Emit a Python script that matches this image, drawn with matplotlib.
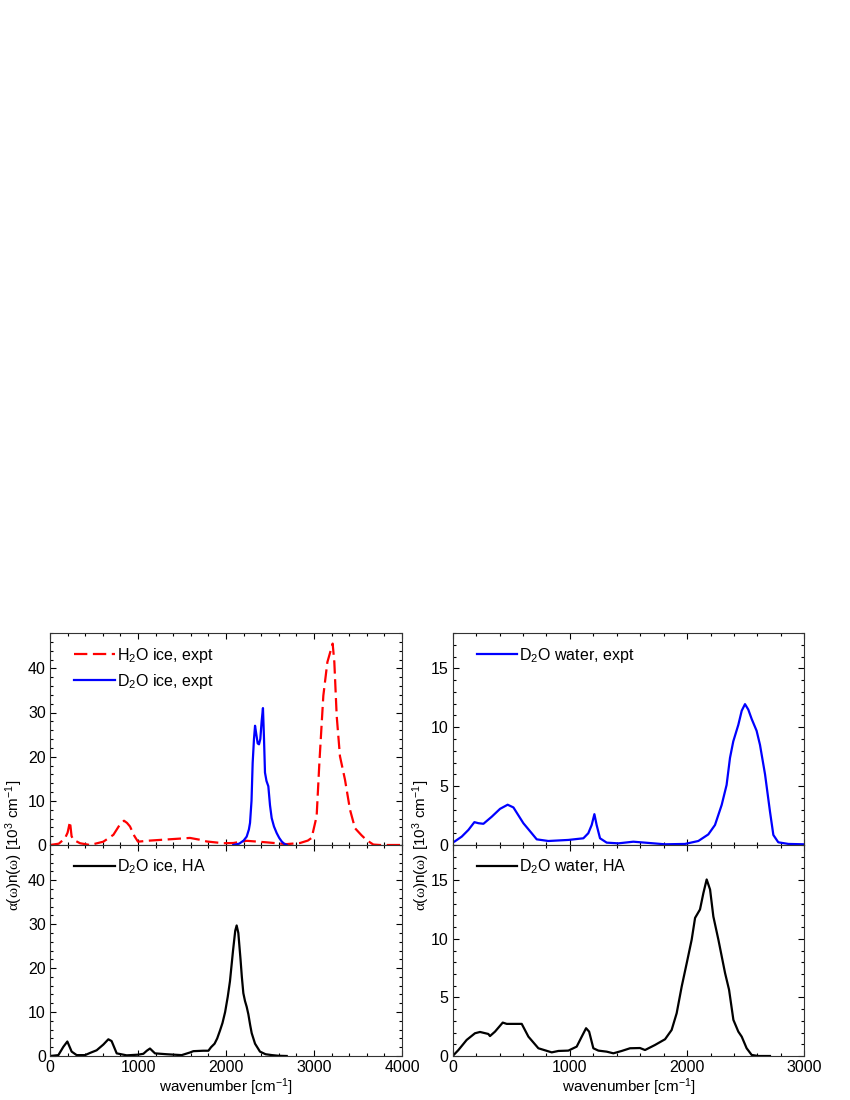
import numpy as np
import matplotlib
matplotlib.use('Agg')
import matplotlib.pyplot as plt
from matplotlib.ticker import MultipleLocator

matplotlib.rcParams['font.family'] = ['Liberation Sans', 'DejaVu Sans']
matplotlib.rcParams['font.size'] = 11
matplotlib.rcParams['mathtext.fontset'] = 'custom'
matplotlib.rcParams['mathtext.rm'] = 'Liberation Sans'
matplotlib.rcParams['mathtext.it'] = 'Liberation Sans:italic'
matplotlib.rcParams['mathtext.sf'] = 'Liberation Serif'
matplotlib.rcParams['mathtext.default'] = 'regular'

# ice, experiment (left top)
h2o_ice_wn = [0, 100, 170, 200, 227, 245, 265, 341, 455, 606, 720, 790, 841, 875, 909, 960,
              1000, 1136, 1364, 1591, 1700, 1780, 1970, 2083, 2235, 2462, 2689, 2841, 2930,
              2973, 3030, 3061, 3106, 3152, 3212, 3231, 3258, 3295, 3352, 3409, 3466, 3540,
              3598, 3674, 3750, 4000]
h2o_ice_val = [0, 0.3, 1.5, 2.8, 5.3, 2.0, 1.2, 0.4, 0, 0.75, 2.3, 4.5, 5.5, 5.0, 4.2, 2.0,
               0.75, 1.0, 1.3, 1.6, 1.2, 0.8, 0.4, 0.45, 0.95, 0.6, 0.2, 0.45, 1.0,
               1.6, 6.5, 18.6, 33.8, 41.4, 45.6, 41.4, 29.2, 20.1, 14.8, 8.0, 3.8, 2.2,
               1.1, 0.1, 0, 0]

d2o_ice_wn = [2083, 2150, 2200, 2235, 2260, 2273, 2290, 2303, 2318, 2330, 2345, 2360, 2375,
              2390, 2405, 2420, 2432, 2443, 2460, 2481, 2500, 2519, 2545, 2576, 2605, 2633,
              2660, 2690]
d2o_ice_val = [0, 0.3, 1.0, 1.9, 3.5, 5.0, 10, 18.6, 24, 27, 25, 23, 22.8,
               24, 28, 31, 24, 16.4, 14.5, 13.3, 9, 6.1, 4.2, 2.7, 1.6, 0.8,
               0.3, 0]

# ice, harmonic approximation (left bottom)
ice_ha_wn = [0, 95, 152, 197, 246, 303, 398, 455, 530, 606, 663, 700, 758, 871, 1000, 1061,
             1100, 1136, 1193, 1326, 1496, 1591, 1629, 1742, 1800, 1830, 1870, 1900, 1932,
             1960, 1990, 2020, 2045, 2080, 2105, 2121, 2140, 2165, 2180, 2197, 2216, 2235,
             2254, 2275, 2292, 2330, 2386, 2450, 2523, 2600, 2690]
ice_ha_val = [0, 0.2, 2.1, 3.3, 1.0, 0.2, 0.2, 0.7, 1.3, 2.6, 3.8, 3.4, 0.6, 0.15, 0.3, 0.5,
              1.2, 1.7, 0.6, 0.4, 0.2, 0.8, 1.1, 1.2, 1.2, 2.0, 2.8, 4.0, 5.8,
              7.5, 10, 13.5, 17, 24, 28.5, 29.7, 28, 22, 18, 14.3, 12.5, 11.2,
              9.5, 7, 5.2, 2.8, 1.0, 0.4, 0.2, 0.05, 0]

# water, experiment (right top)
water_exp_wn = [0, 14, 77, 134, 185, 220, 262, 333, 404, 469, 518, 603, 674, 717, 816, 987,
                1115, 1157, 1186, 1209, 1228, 1257, 1314, 1413, 1541, 1641, 1811, 1982,
                2096, 2181, 2238, 2295, 2337, 2366, 2394, 2437, 2466, 2494, 2522, 2551,
                2593, 2622, 2665, 2707, 2736, 2778, 2864, 3000]
water_exp_val = [0.25, 0.28, 0.71, 1.28, 1.94, 1.85, 1.8, 2.4, 3.07, 3.42, 3.19, 1.85, 1.0,
                 0.48, 0.34, 0.43, 0.57, 1.0, 1.7, 2.62, 1.7, 0.57, 0.2, 0.14, 0.28, 0.2,
                 0.06, 0.09, 0.34, 0.9, 1.7, 3.4, 5.1, 7.4, 8.8, 10.2, 11.4, 11.96, 11.5,
                 10.7, 9.7, 8.5, 6.0, 2.85, 0.85, 0.23, 0.09, 0.06]

# water, harmonic approximation (right bottom)
water_ha_wn = [0, 48, 119, 190, 233, 304, 318, 361, 427, 461, 503, 589, 646, 731, 845, 902,
               987, 1058, 1101, 1138, 1164, 1200, 1243, 1314, 1371, 1442, 1513, 1598, 1641,
               1726, 1812, 1868, 1911, 1954, 1997, 2039, 2068, 2110, 2139, 2167, 2196, 2224,
               2267, 2324, 2358, 2395, 2437, 2466, 2508, 2551, 2608, 2707]
water_ha_val = [0, 0.5, 1.37, 1.94, 2.05, 1.88, 1.7, 2.08, 2.85, 2.74, 2.74, 2.74, 1.65, 0.66,
                0.31, 0.43, 0.46, 0.8, 1.65, 2.37, 2.08, 0.66, 0.46, 0.37, 0.23, 0.43, 0.66,
                0.68, 0.51, 0.94, 1.43, 2.22, 3.65, 5.93, 7.93, 9.92, 11.78, 12.5, 13.9,
                15.06, 14.2, 11.9, 9.92, 7.07, 5.65, 3.08, 2.08, 1.65, 0.66, 0.09, 0, 0]

fig = plt.figure(figsize=(8.5, 11), dpi=100)
W, H = 850., 1100.
ax_it = fig.add_axes([50/W, 1-845/H, 352/W, 212/H])
ax_ib = fig.add_axes([50/W, 1-1056/H, 352/W, 211/H])
ax_wt = fig.add_axes([452.7/W, 1-845/H, 351.6/W, 212/H])
ax_wb = fig.add_axes([452.7/W, 1-1056/H, 351.6/W, 211/H])

ax_it.plot(h2o_ice_wn, h2o_ice_val, color='#ff0000', lw=1.6, dashes=(6, 2.5),
           label=r'H$_2$O ice, expt')
ax_it.plot(d2o_ice_wn, d2o_ice_val, color='#0000ff', lw=1.6, label=r'D$_2$O ice, expt')
ax_ib.plot(ice_ha_wn, ice_ha_val, color='k', lw=1.6, label=r'D$_2$O ice, HA')
ax_wt.plot(water_exp_wn, water_exp_val, color='#0000ff', lw=1.6, label=r'D$_2$O water, expt')
ax_wb.plot(water_ha_wn, water_ha_val, color='k', lw=1.6, label=r'D$_2$O water, HA')

for ax in [ax_it, ax_ib]:
    ax.set_xlim(0, 4000)
    ax.set_ylim(0, 48)
    ax.xaxis.set_major_locator(MultipleLocator(1000))
    ax.xaxis.set_minor_locator(MultipleLocator(200))
    ax.yaxis.set_major_locator(MultipleLocator(10))
    ax.yaxis.set_minor_locator(MultipleLocator(2))
for ax in [ax_wt, ax_wb]:
    ax.set_xlim(0, 3000)
    ax.set_ylim(0, 18)
    ax.xaxis.set_major_locator(MultipleLocator(1000))
    ax.xaxis.set_minor_locator(MultipleLocator(200))
    ax.yaxis.set_major_locator(MultipleLocator(5))
    ax.yaxis.set_minor_locator(MultipleLocator(1))

for ax in [ax_it, ax_ib, ax_wt, ax_wb]:
    ax.tick_params(which='both', direction='in', top=True, right=True, width=0.8, pad=3,
                   labelsize=11.5)
    ax.tick_params(which='major', length=4)
    ax.tick_params(which='minor', length=2)
    for s in ax.spines.values():
        s.set_linewidth(0.8)
        s.set_color('#333333')
    ax.legend(loc='upper left', bbox_to_anchor=(0.068, 0.94), frameon=False, borderpad=0,
              borderaxespad=0, handlelength=2.55, handletextpad=0.12, labelspacing=0.45,
              fontsize=11.5)
for ax in [ax_it, ax_wt]:
    ax.tick_params(labelbottom=False)

ylab = r'$\mathsf{\alpha}(\mathsf{\omega})n(\mathsf{\omega})$ [10$^3$ cm$^{-1}$]'
fig.text(14/W, 1-845/H, ylab, rotation=90, ha='center', va='center')
fig.text(421/W, 1-845/H, ylab, rotation=90, ha='center', va='center')
xlab = r'wavenumber [cm$^{-1}$]'
fig.text(226/W, 1-1087/H, xlab, ha='center', va='center')
fig.text(628.5/W, 1-1087/H, xlab, ha='center', va='center')

fig.savefig('out.png', dpi=100)
